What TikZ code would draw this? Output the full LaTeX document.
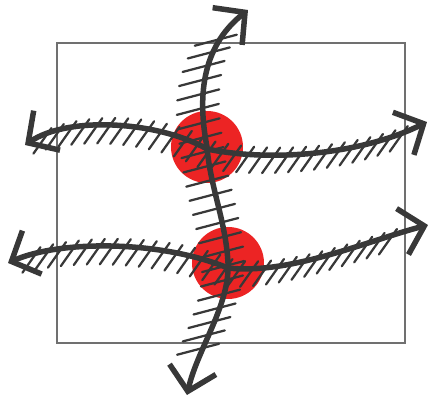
\documentclass[tikz,border=0pt]{standalone}
\usepackage{xcolor}
\usetikzlibrary{arrows.meta, decorations.markings}
\definecolor{ink}{HTML}{383838}
\definecolor{frame}{HTML}{707070}
\definecolor{blob}{HTML}{EC2424}

\begin{document}
\begin{tikzpicture}[
  x=0.2mm, y=-0.2mm,
  dot/.style={circle, fill=blob, minimum size=14.4mm, inner sep=0pt},
  axis/.style={draw=ink, line width=1.1mm, line cap=round, line join=round, <->, >={Straight Barb[length=4.5mm, width=9.5mm]}},
  tick/.style={draw=ink, line width=0.45mm, line cap=round, arrows=-},
  hhatch/.style={postaction={decorate, decoration={markings,
    mark=between positions #1 step 2.6mm with {\pgftransformresetnontranslations
      \draw[tick] (-2mm,-3.6mm) -- (1.6mm,1.5mm);}}}},
  vhatch/.style={postaction={decorate, decoration={markings,
    mark=between positions #1 step 2.9mm with {\pgftransformresetnontranslations
      \draw[tick] (-5.2mm,-1.2mm) -- (3.2mm,1mm);}}}},
]
\useasboundingbox (0,0) rectangle (430,405);

% frame
\draw[frame, line width=0.25mm] (57,43) rectangle (405,343);

% crossing spots
\node[dot] (dot1) at (207,147) {};
\node[dot] (dot2) at (228,263) {};
\coordinate (m1) at (207,149);
\coordinate (m2) at (228,268);

% arrow ends
\coordinate (vtop) at (248,10);
\coordinate (vbot) at (187,395);
\coordinate (lt) at (25,145);
\coordinate (rt) at (427,122);
\coordinate (lb) at (8,263);
\coordinate (rb) at (428,225);

\draw[axis, vhatch=0.12 and 0.92] (vbot) .. controls (197,350) and (230,305) .. (dot2.center)
  .. controls (226,222) and (210,186) .. (dot1.center)
  .. controls (198,100) and (200,48) .. (vtop);
\draw[axis, hhatch=0.05 and 0.93] (lt) .. controls (70,115) and (160,122) .. (m1)
  .. controls (270,162) and (360,155) .. (rt);
\draw[axis, hhatch=0.06 and 0.92] (lb) .. controls (60,240) and (160,240) .. (m2)
  .. controls (290,275) and (370,240) .. (rb);

\end{tikzpicture}
\end{document}
